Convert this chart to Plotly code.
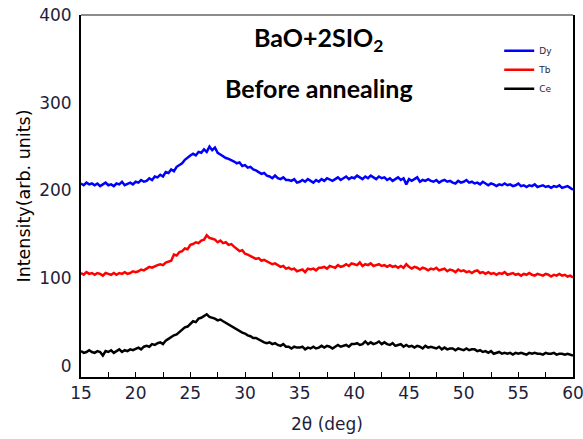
import plotly.graph_objects as go

# 2-theta scan grid (0.25 deg step, 15..60 deg)
two_theta = [15 + 0.25 * i for i in range(181)]

dy = [208, 206, 209, 207, 208,
      206, 208, 205, 207, 209, 206, 207, 205, 208, 207, 210, 206, 208, 209, 207, 210,
      209, 212, 210, 211, 214, 212, 216, 215, 218, 216, 221, 220, 224, 222, 227, 229,
      231, 235, 238, 240, 242, 240, 244, 243, 247, 244, 250, 246, 249, 243, 241, 239,
      237, 236, 234, 233, 231, 232, 228, 229, 226, 227, 224, 223, 221, 219, 220, 217,
      216, 214, 217, 214, 213, 215, 212, 212, 211, 213, 209, 210, 212, 210, 213, 211,
      209, 212, 210, 213, 211, 214, 212, 211, 213, 215, 212, 214, 216, 213, 215, 214,
      217, 215, 213, 216, 214, 217, 215, 213, 216, 214, 215, 212, 214, 211, 213, 215,
      212, 214, 207, 213, 211, 213, 215, 210, 212, 211, 213, 211, 210, 212, 209, 211,
      212, 210, 211, 209, 208, 211, 209, 210, 212, 209, 210, 208, 209, 207, 210, 208,
      206, 208, 207, 205, 207, 206, 208, 206, 207, 205, 206, 208, 205, 206, 204, 206,
      205, 207, 204, 205, 206, 204, 205, 203, 205, 204, 206, 203, 204, 205, 203, 201]

tb = [106, 104, 107, 105, 106,
      104, 106, 105, 103, 106, 105, 104, 106, 104, 106, 105, 107, 105, 106, 108, 107,
      108, 110, 109, 111, 113, 112, 114, 115, 116, 115, 118, 119, 120, 127, 126, 130,
      131, 134, 133, 138, 139, 141, 140, 143, 144, 149, 146, 145, 144, 141, 143, 140,
      141, 138, 139, 136, 134, 131, 132, 128, 127, 125, 124, 122, 123, 120, 121, 119,
      118, 116, 117, 115, 113, 114, 111, 112, 110, 111, 108, 109, 110, 107, 111, 110,
      111, 109, 112, 112, 113, 111, 114, 113, 112, 115, 113, 114, 116, 114, 117, 116,
      115, 118, 114, 116, 115, 117, 114, 115, 116, 114, 115, 113, 115, 113, 114, 112,
      114, 112, 116, 113, 111, 113, 112, 110, 112, 111, 109, 111, 110, 112, 109, 110,
      111, 108, 110, 109, 107, 110, 108, 109, 107, 108, 106, 108, 109, 106, 107, 105,
      107, 105, 106, 104, 106, 105, 107, 104, 105, 106, 104, 105, 103, 105, 104, 106,
      104, 103, 105, 104, 103, 105, 104, 102, 104, 103, 105, 103, 104, 102, 103, 101]

ce = [17, 15, 16, 18, 16,
      15, 17, 16, 12, 17, 16, 18, 15, 17, 19, 16, 18, 17, 19, 18, 20,
      21, 19, 22, 23, 22, 25, 24, 26, 27, 25, 29, 31, 33, 35, 36, 39,
      41, 44, 45, 48, 51, 50, 54, 55, 57, 59, 56, 55, 54, 52, 53, 51,
      49, 47, 45, 43, 41, 40, 38, 37, 35, 34, 32, 32, 30, 29, 27, 26,
      27, 25, 26, 24, 23, 25, 22, 22, 20, 22, 21, 21, 22, 19, 21, 20,
      22, 20, 21, 23, 21, 23, 22, 20, 22, 24, 22, 23, 24, 22, 25, 25,
      26, 24, 25, 28, 25, 27, 25, 26, 28, 25, 27, 25, 24, 26, 23, 24,
      25, 22, 24, 22, 23, 21, 23, 22, 20, 23, 21, 22, 21, 20, 22, 19,
      21, 19, 20, 20, 18, 20, 19, 18, 20, 18, 19, 19, 17, 18, 16, 17,
      15, 17, 14, 15, 16, 14, 15, 14, 15, 13, 15, 14, 15, 14, 13, 15,
      14, 15, 14, 14, 13, 15, 14, 14, 15, 13, 14, 14, 13, 14, 13, 12]

series = [("Dy", dy, "#0000ff"), ("Tb", tb, "#ff0000"), ("Ce", ce, "#000000")]

x_ticks = [15, 20, 25, 30, 35, 40, 45, 50, 55, 60]
y_ticks = [0, 100, 200, 300, 400]

fig = go.Figure()
for name, vals, col in series:
    fig.add_trace(go.Scatter(x=two_theta, y=vals, mode="lines", name=name,
                             legendgroup=name,
                             line=dict(color=col, width=2.5)))

FONT = "DejaVu Sans"
tick_font = dict(family=FONT, size=17, color="#1e1e3c")

fig.update_layout(
    width=583, height=439,
    margin=dict(l=81, r=10, t=15, b=62, autoexpand=False),
    paper_bgcolor="white", plot_bgcolor="white",
    showlegend=True,
    legend=dict(x=0.85, y=0.941, xanchor="left", yanchor="top",
                font=dict(family=FONT, size=9, color="#1e1e3c"),
                bgcolor="rgba(0,0,0,0)", tracegroupgap=10.5,
                traceorder="normal"),
    xaxis=dict(range=[15, 60], tickvals=x_ticks, ticks="inside", ticklen=5,
               tickwidth=1.2, tickcolor="black", automargin=False,
               ticklabeloverflow="allow",
               minor=dict(dtick=2.5, tick0=15, ticks="inside", ticklen=5,
                          tickwidth=1.2, tickcolor="black"),
               showline=True, linecolor="black", linewidth=2, mirror=False,
               showgrid=False, zeroline=False, tickfont=tick_font,
               title=dict(text="2θ (deg)", font=dict(family=FONT, size=17,
                                                    color="#1e1e3c"),
                          standoff=16)),
    yaxis=dict(range=[-12.5, 400], tickvals=y_ticks, ticks="",
               showline=True, linecolor="black", linewidth=2, mirror=True,
               showgrid=False, zeroline=False, tickfont=tick_font,
               ticklabelstandoff=4, automargin=False,
               ticklabeloverflow="allow",
               title=dict(text="Intensity(arb. units)",
                          font=dict(family=FONT, size=17.5, color="black"),
                          standoff=4)),
    shapes=[dict(type="line", xref="paper", yref="paper", x0=0, x1=1, y0=1, y1=1,
                 line=dict(color="#666666", width=1.5))],
)

title_font = dict(family="Lato, Open Sans", size=25, color="black")
fig.add_annotation(text="<b>BaO+2SIO<sub>2</sub></b>", x=36.7, y=373,
                   showarrow=False, font=title_font,
                   xanchor="center", yanchor="middle")
fig.add_annotation(text="<b>Before annealing</b>", x=36.8, y=317,
                   showarrow=False, font=title_font,
                   xanchor="center", yanchor="middle")

fig.write_html("out.html")
